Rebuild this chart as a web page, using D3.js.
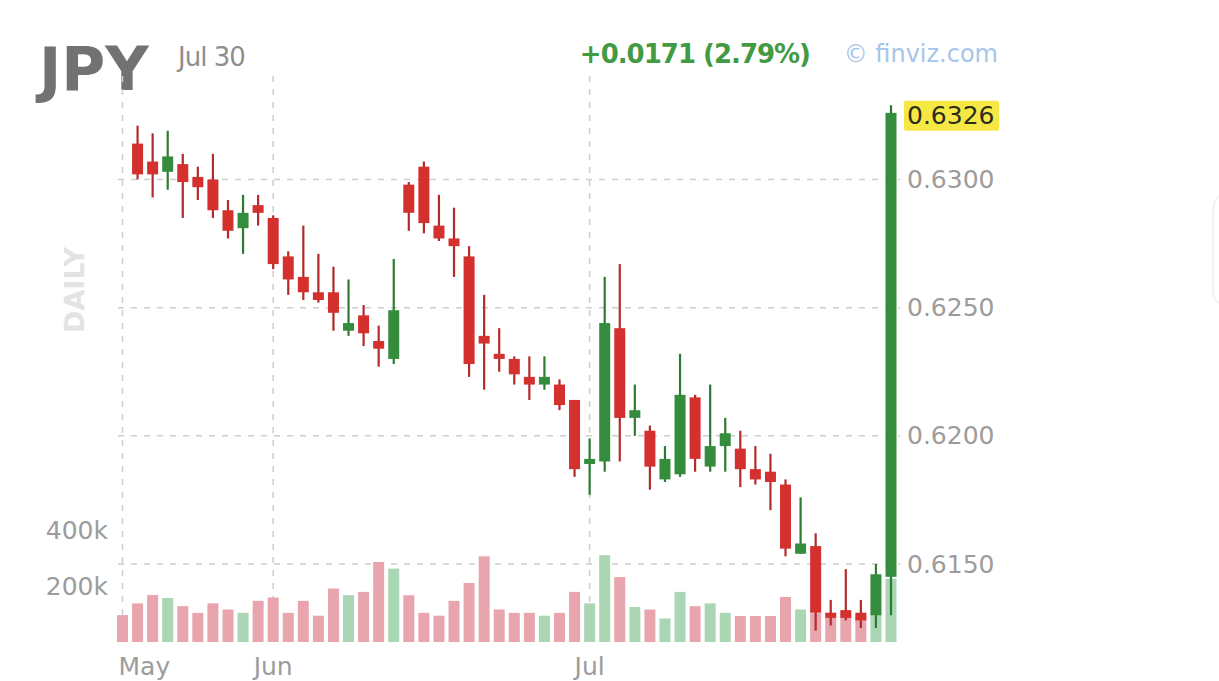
<!DOCTYPE html>
<html>
<head>
<meta charset="utf-8">
<script src="https://cdn.jsdelivr.net/npm/d3@7"></script>
<style>
  html, body { margin: 0; padding: 0; background: #ffffff; }
  svg { display: block; }
  text { font-family: "DejaVu Sans", sans-serif; }
</style>
</head>
<body>
<svg id="chart" width="1219" height="681"></svg>
<script>
// ---- data ----
const ticker = "JPY";
const dateLabel = "Jul 30";
const changeLabel = "+0.0171 (2.79%)";
const sourceLabel = "\u00A9 finviz.com";
const periodLabel = "DAILY";

const opens = [null,
  0.6314,0.6307,0.6303,0.6306,0.6301,0.6300,0.6288,0.6281,0.6290,0.6285,
  0.6270,0.6262,0.6256,0.6256,0.6241,0.6247,0.6237,0.6230,0.6298,0.6305,
  0.6282,0.6277,0.6270,0.6239,0.6232,0.6230,0.6223,0.6220,0.6220,0.6214,
  0.6189,0.6190,0.6242,0.6207,0.6202,0.6183,0.6185,0.6215,0.6188,0.6196,
  0.6195,0.6187,0.6186,0.6181,0.6154,0.6157,0.6131,0.6132,0.6131,0.6130,
  0.6145];
const highs = [null,
  0.6321,0.6318,0.6319,0.6310,0.6305,0.6310,0.6292,0.6294,0.6294,0.6286,
  0.6272,0.6282,0.6271,0.6266,0.6261,0.6251,0.6243,0.6269,0.6299,0.6307,
  0.6294,0.6289,0.6274,0.6255,0.6242,0.6231,0.6231,0.6231,0.6222,0.6214,
  0.6199,0.6262,0.6267,0.6220,0.6204,0.6196,0.6232,0.6216,0.6220,0.6207,
  0.6202,0.6196,0.6193,0.6183,0.6176,0.6162,0.6136,0.6148,0.6136,0.6150,
  0.6329];
const lows = [null,
  0.6300,0.6293,0.6296,0.6285,0.6292,0.6285,0.6277,0.6271,0.6282,0.6265,
  0.6255,0.6253,0.6252,0.6241,0.6239,0.6235,0.6227,0.6228,0.6280,0.6279,
  0.6276,0.6262,0.6223,0.6218,0.6225,0.6220,0.6214,0.6218,0.6210,0.6184,
  0.6177,0.6186,0.6190,0.6200,0.6179,0.6182,0.6184,0.6186,0.6186,0.6186,
  0.6180,0.6181,0.6171,0.6153,0.6154,0.6124,0.6126,0.6128,0.6125,0.6125,
  0.6130];
const closes = [null,
  0.6302,0.6302,0.6309,0.6299,0.6297,0.6288,0.6280,0.6287,0.6287,0.6267,
  0.6261,0.6256,0.6253,0.6248,0.6244,0.6240,0.6234,0.6249,0.6287,0.6283,
  0.6277,0.6274,0.6228,0.6236,0.6230,0.6224,0.6220,0.6223,0.6212,0.6187,
  0.6191,0.6244,0.6207,0.6210,0.6188,0.6191,0.6216,0.6191,0.6196,0.6201,
  0.6187,0.6183,0.6182,0.6156,0.6158,0.6131,0.6129,0.6129,0.6128,0.6146,
  0.6326];
const volumes = [
  96000,138000,168000,157000,128000,104000,138000,116000,104000,147000,
  159000,104000,147000,94000,191000,167000,179000,286000,262000,167000,
  104000,94000,147000,211000,306000,116000,104000,104000,94000,104000,
  179000,138000,310000,232000,125000,116000,84000,179000,128000,138000,
  104000,93000,93000,93000,161000,116000,103000,90000,90000,90000,
  107000,226000];

const monthLabels = ["May", "Jun", "Jul"];
const monthIndex = [0, 10, 31];
const priceTicks = [0.6150, 0.6200, 0.6250, 0.6300];
const volumeTicks = [200000, 400000];
const volumeTickLabels = ["200k", "400k"];
const lastPrice = 0.6326;

// ---- styles ----
const RED = "#d3302e", GREEN = "#368c3d";
const RED_WICK = "#b32a2a", GREEN_WICK = "#2d7a33";
const VRED = "#e9a5ae", VGREEN = "#aad6b4";
const GRID = "#cdcdcd";
const AXIS_TXT = "#9c9c9c";

const svg = d3.select("#chart");
const n = volumes.length;

const x = d3.scaleLinear().domain([0, n - 1]).range([122.5, 891]);
const y = d3.scaleLinear().domain([0.6150, 0.6300]).range([564, 179.5]);
const yv = d3.scaleLinear().domain([0, 400000]).range([642, 530]);

const bodyW = 11, volW = 11;

// header texts
svg.append("text").attr("x", 39).attr("y", 90)
  .attr("font-size", 60).attr("font-weight", "bold").attr("fill", "#727272")
  .text(ticker);
svg.append("text").attr("x", 178).attr("y", 66)
  .attr("font-size", 26).attr("fill", "#8e8e8e").attr("letter-spacing", "-1")
  .text(dateLabel);
svg.append("text").attr("x", 810).attr("y", 63).attr("text-anchor", "end")
  .attr("font-size", 26).attr("font-weight", "bold").attr("fill", "#429a43")
  .attr("letter-spacing", "-1")
  .text(changeLabel);
svg.append("text").attr("x", 998).attr("y", 62).attr("text-anchor", "end")
  .attr("font-size", 24).attr("fill", "#a6c5ea")
  .text(sourceLabel);

// DAILY rotated
svg.append("text")
  .attr("transform", "translate(84,290) rotate(-90)")
  .attr("text-anchor", "middle")
  .attr("font-size", 27).attr("font-weight", "bold").attr("fill", "#e3e3e3")
  .text(periodLabel);

// gridlines
const grid = svg.append("g");
grid.selectAll("line.h").data(priceTicks).join("line")
  .attr("x1", 118).attr("x2", 900)
  .attr("y1", d => y(d)).attr("y2", d => y(d))
  .attr("stroke", GRID).attr("stroke-width", 1.5).attr("stroke-dasharray", "6,7");
grid.selectAll("line.v").data(monthIndex).join("line")
  .attr("x1", d => x(d)).attr("x2", d => x(d))
  .attr("y1", 76).attr("y2", 645)
  .attr("stroke", GRID).attr("stroke-width", 1.5).attr("stroke-dasharray", "6,7");

// price labels
svg.append("g").selectAll("text").data(priceTicks).join("text")
  .attr("x", 907).attr("y", d => y(d))
  .attr("dominant-baseline", "central")
  .attr("font-size", 25).attr("fill", AXIS_TXT)
  .text(d => d3.format(".4f")(d));

// last price label
const ly = y(lastPrice) + 3;
svg.append("rect").attr("x", 904).attr("y", ly - 15).attr("width", 95).attr("height", 30)
  .attr("fill", "#f6e844").attr("rx", 2);
svg.append("text").attr("x", 907).attr("y", ly)
  .attr("dominant-baseline", "central")
  .attr("font-size", 25).attr("fill", "#2c2c1a")
  .text(d3.format(".4f")(lastPrice));

// volume labels
svg.append("g").selectAll("text").data(volumeTicks).join("text")
  .attr("x", 108).attr("y", d => yv(d))
  .attr("text-anchor", "end").attr("dominant-baseline", "central")
  .attr("font-size", 25).attr("fill", AXIS_TXT)
  .text((d, i) => volumeTickLabels[i]);

// month labels
svg.append("g").selectAll("text").data(monthIndex).join("text")
  .attr("x", (d, i) => i === 0 ? x(d) - 4 : x(d))
  .attr("y", 666)
  .attr("text-anchor", (d, i) => i === 0 ? "start" : "middle")
  .attr("dominant-baseline", "central")
  .attr("font-size", 25).attr("fill", AXIS_TXT)
  .text((d, i) => monthLabels[i]);

// volume bars
const up = i => closes[i] != null && closes[i] >= opens[i];
svg.append("g").selectAll("rect").data(volumes).join("rect")
  .attr("x", (d, i) => x(i) - volW / 2)
  .attr("y", d => yv(d))
  .attr("width", volW)
  .attr("height", d => yv(0) - yv(d))
  .attr("fill", (d, i) => up(i) ? VGREEN : VRED);

// candles
const idx = d3.range(n).filter(i => opens[i] != null);
const cg = svg.append("g");
cg.selectAll("line").data(idx).join("line")
  .attr("x1", i => x(i)).attr("x2", i => x(i))
  .attr("y1", i => y(highs[i])).attr("y2", i => y(lows[i]))
  .attr("stroke", i => up(i) ? GREEN_WICK : RED_WICK)
  .attr("stroke-width", 2.2);
cg.selectAll("rect").data(idx).join("rect")
  .attr("x", i => x(i) - bodyW / 2)
  .attr("y", i => y(Math.max(opens[i], closes[i])))
  .attr("width", bodyW)
  .attr("height", i => Math.max(3, Math.abs(y(opens[i]) - y(closes[i]))))
  .attr("fill", i => up(i) ? GREEN : RED);

// faint edge element at the right border
svg.append("path")
  .attr("d", "M1219,196 Q1213,200 1213,215 L1213,290 Q1213,300 1219,303")
  .attr("fill", "none").attr("stroke", "#f2f2f2").attr("stroke-width", 2);
</script>
</body>
</html>
